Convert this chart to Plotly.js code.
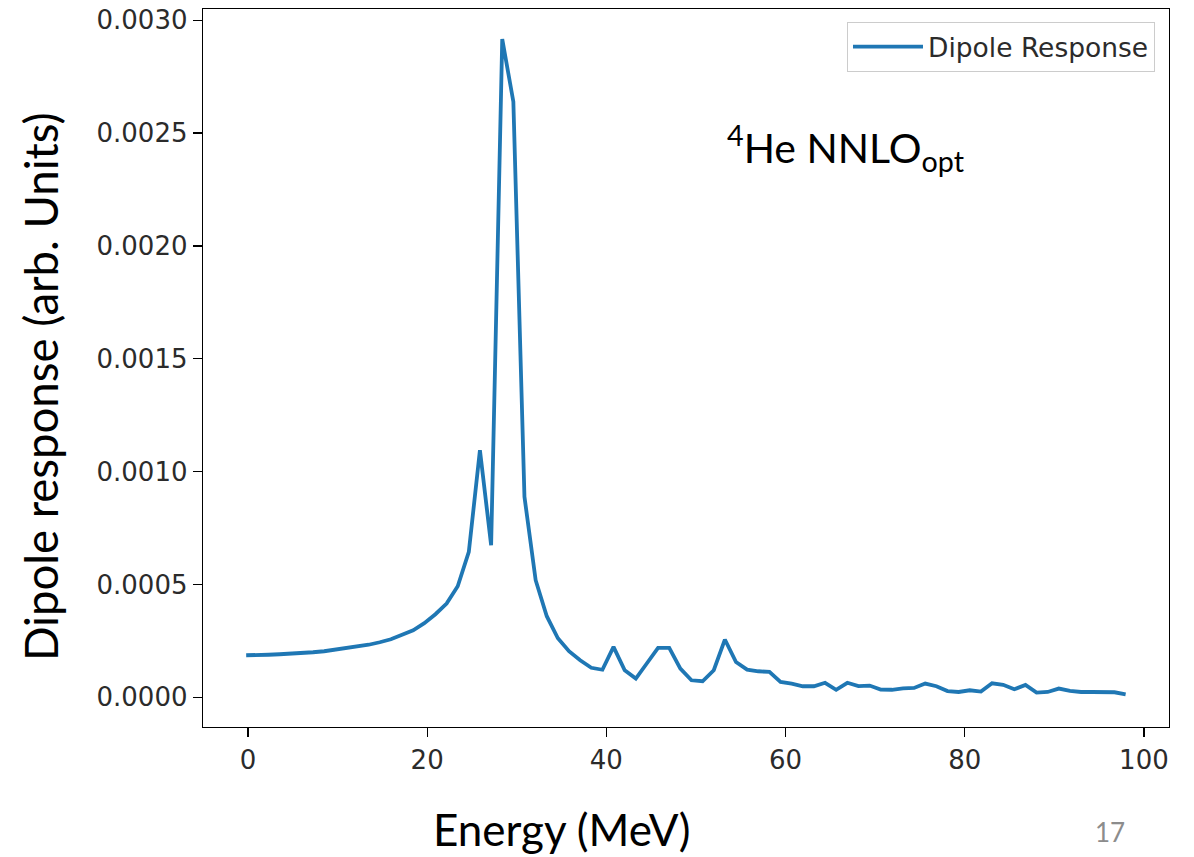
<!DOCTYPE html>
<html>
<head>
<meta charset="utf-8">
<script src="https://cdn.plot.ly/plotly-3.0.1.min.js"></script>
<style>html,body{margin:0;padding:0;background:#fff;}</style>
</head>
<body>
<div id="chart" style="width:1194px;height:857px;"></div>
<script>
// Energy grid (MeV)
const energy = [
  -0.20, 1.04, 2.29, 3.53, 4.77, 6.01, 7.26, 8.50, 9.74, 10.98,
  12.23, 13.47, 14.71, 15.95, 17.20, 18.44, 19.68, 20.92, 22.17, 23.41,
  24.65, 25.89, 27.14, 28.38, 29.62, 30.86, 32.11, 33.35, 34.59, 35.83,
  37.08, 38.32, 39.56, 40.80, 42.05, 43.29, 44.53, 45.77, 47.02, 48.26,
  49.50, 50.74, 51.99, 53.23, 54.47, 55.71, 56.96, 58.20, 59.44, 60.68,
  61.93, 63.17, 64.41, 65.65, 66.90, 68.14, 69.38, 70.62, 71.87, 73.11,
  74.35, 75.59, 76.84, 78.08, 79.32, 80.56, 81.81, 83.05, 84.29, 85.53,
  86.78, 88.02, 89.26, 90.50, 91.75, 92.99, 94.23, 95.47, 96.72, 97.96
];
// Dipole response (arb. units)
const dipoleResponse = [
  1.863e-4, 1.863e-4, 1.885e-4, 1.907e-4, 1.929e-4, 1.951e-4, 1.996e-4, 2.040e-4, 2.106e-4, 2.173e-4,
  2.239e-4, 2.328e-4, 2.439e-4, 2.572e-4, 2.772e-4, 2.971e-4, 3.282e-4, 3.681e-4, 4.155e-4, 4.922e-4,
  6.443e-4, 1.0953e-3, 6.741e-4, 2.9166e-3, 2.6399e-3, 8.883e-4, 5.188e-4, 3.592e-4, 2.616e-4, 2.040e-4,
  1.641e-4, 1.308e-4, 1.220e-4, 2.231e-4, 1.197e-4, 8.29e-5, 1.508e-4, 2.186e-4, 2.186e-4, 1.273e-4,
  7.54e-5, 7.10e-5, 1.197e-4, 2.559e-4, 1.565e-4, 1.228e-4, 1.153e-4, 1.122e-4, 6.78e-5, 6.08e-5,
  4.88e-5, 4.88e-5, 6.43e-5, 3.33e-5, 6.43e-5, 4.97e-5, 5.19e-5, 3.41e-5, 3.33e-5, 3.99e-5,
  4.12e-5, 6.08e-5, 4.88e-5, 2.75e-5, 2.35e-5, 3.10e-5, 2.53e-5, 6.21e-5, 5.54e-5, 3.55e-5,
  5.45e-5, 2.08e-5, 2.35e-5, 3.86e-5, 2.79e-5, 2.35e-5, 2.35e-5, 2.35e-5, 2.22e-5, 1.33e-5
];
const xTickVals = [0, 20, 40, 60, 80, 100];
const xTickText = ['0', '20', '40', '60', '80', '100'];
const yTickVals = [0, 0.0005, 0.0010, 0.0015, 0.0020, 0.0025, 0.0030];
const yTickText = ['0.0000', '0.0005', '0.0010', '0.0015', '0.0020', '0.0025', '0.0030'];
const seriesName = 'Dipole Response';

const tickFont = {family: 'DejaVu Sans', size: 26, color: '#2b2b2b'};
const slideFont = 'Lato';

const trace = {
  x: energy,
  y: dipoleResponse,
  type: 'scatter',
  mode: 'lines',
  name: seriesName,
  line: {color: '#1f77b4', width: 3.8},
  showlegend: true
};

const axisCommon = {
  showline: true, mirror: true, linecolor: '#000', linewidth: 1.3,
  ticks: 'outside', ticklen: 9, tickwidth: 1.3, tickcolor: '#000',
  showgrid: false, zeroline: false, tickfont: tickFont
};

const layout = {
  width: 1194, height: 857,
  margin: {l: 203, r: 25, t: 9, b: 130, pad: 0},
  paper_bgcolor: '#fff', plot_bgcolor: '#fff',
  xaxis: Object.assign({}, axisCommon, {
    range: [-5.02, 102.8], tickmode: 'array', tickvals: xTickVals, ticktext: xTickText
  }),
  yaxis: Object.assign({}, axisCommon, {
    range: [-0.0001317, 0.0030501], tickmode: 'array', tickvals: yTickVals, ticktext: yTickText
  }),
  legend: {
    x: 0.9855, y: 0.982, xanchor: 'right', yanchor: 'top',
    bgcolor: 'rgba(255,255,255,0.8)', bordercolor: '#cccccc', borderwidth: 1,
    itemwidth: 70,
    font: {family: 'DejaVu Sans', size: 26.5, color: '#2b2b2b'}
  },
  annotations: [
    {xref: 'paper', yref: 'paper', x: 0.540, y: 0.8066, xanchor: 'left', yanchor: 'middle',
     text: '<sup>4</sup>He NNLO<sub>opt</sub>', showarrow: false,
     font: {family: slideFont, size: 41, color: '#000'}},
    {xref: 'paper', yref: 'paper', x: 0.3716, y: -0.1420, xanchor: 'center', yanchor: 'middle',
     text: 'Energy (MeV)', showarrow: false,
     font: {family: slideFont, size: 44, color: '#000'}},
    {xref: 'paper', yref: 'paper', x: -0.1687, y: 0.4735, xanchor: 'center', yanchor: 'middle',
     text: 'Dipole response (arb. Units)', textangle: -90, showarrow: false,
     font: {family: slideFont, size: 45.5, color: '#000'}},
    {xref: 'paper', yref: 'paper', x: 0.939, y: -0.146, xanchor: 'center', yanchor: 'middle',
     text: '17', showarrow: false,
     font: {family: slideFont, size: 26, color: '#8c8c8c'}}
  ]
};

Plotly.newPlot('chart', [trace], layout, {displayModeBar: false, staticPlot: true});
</script>
</body>
</html>
